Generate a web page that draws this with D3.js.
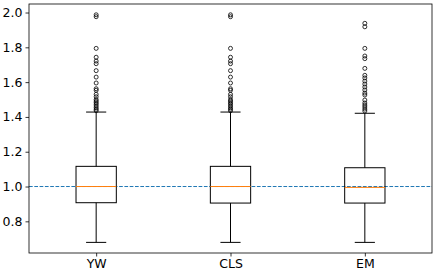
<!DOCTYPE html>
<html><head><meta charset="utf-8">
<script src="https://cdn.jsdelivr.net/npm/d3@7/dist/d3.min.js"></script>
<style>body{margin:0;background:#fff}svg{display:block}text{font-family:"DejaVu Sans",sans-serif}</style>
</head><body><svg id="c" width="436" height="272"></svg>
<script>
const categories = ["YW", "CLS", "EM"];
const q1 = [0.907, 0.905, 0.905];
const medians = [1.0, 1.0, 0.995];
const q3 = [1.116, 1.116, 1.108];
const whiskerLow = [0.679, 0.679, 0.679];
const whiskerHigh = [1.428, 1.428, 1.421];
const outliersYW = [1.987, 1.976, 1.794, 1.743, 1.721, 1.706, 1.666, 1.629, 1.595, 1.562, 1.553, 1.530, 1.516, 1.500, 1.491, 1.482, 1.473, 1.463, 1.453, 1.444, 1.436];
const outliersCLS = [1.987, 1.976, 1.794, 1.743, 1.721, 1.706, 1.666, 1.629, 1.595, 1.562, 1.553, 1.530, 1.516, 1.500, 1.491, 1.482, 1.473, 1.463, 1.453, 1.444, 1.436];
const outliersEM = [1.938, 1.918, 1.794, 1.750, 1.735, 1.679, 1.639, 1.624, 1.606, 1.589, 1.572, 1.555, 1.537, 1.526, 1.497, 1.480, 1.468, 1.457, 1.445, 1.434];
const yTicks = [0.8, 1.0, 1.2, 1.4, 1.6, 1.8, 2.0];
const refLine = 1.0;

const outliers = [outliersYW, outliersCLS, outliersEM];
const svg = d3.select("#c");
const L = 29, R = 432, T = 4, B = 253;
const x = d3.scaleLinear().domain([0.5, 3.5]).range([L, R]);
const y = d3.scaleLinear().domain([0.618, 2.049]).range([B, T]);
const bw = 0.3, cw = 0.15;

// reference line
svg.append("line").attr("x1", L).attr("x2", R).attr("y1", y(refLine)).attr("y2", y(refLine))
  .attr("stroke", "#1f77b4").attr("stroke-width", 1).attr("stroke-dasharray", "3.7,1.6");

categories.forEach((c, i) => {
  const p = i + 1;
  const g = svg.append("g").attr("stroke", "#000").attr("stroke-width", 1).attr("fill", "none");
  g.append("rect").attr("x", x(p - bw / 2)).attr("width", x(p + bw / 2) - x(p - bw / 2))
    .attr("y", y(q3[i])).attr("height", y(q1[i]) - y(q3[i]));
  g.append("line").attr("x1", x(p)).attr("x2", x(p)).attr("y1", y(q3[i])).attr("y2", y(whiskerHigh[i]));
  g.append("line").attr("x1", x(p)).attr("x2", x(p)).attr("y1", y(q1[i])).attr("y2", y(whiskerLow[i]));
  g.append("line").attr("x1", x(p - cw / 2)).attr("x2", x(p + cw / 2)).attr("y1", y(whiskerHigh[i])).attr("y2", y(whiskerHigh[i]));
  g.append("line").attr("x1", x(p - cw / 2)).attr("x2", x(p + cw / 2)).attr("y1", y(whiskerLow[i])).attr("y2", y(whiskerLow[i]));
  g.append("line").attr("x1", x(p - bw / 2)).attr("x2", x(p + bw / 2)).attr("y1", y(medians[i])).attr("y2", y(medians[i]))
    .attr("stroke", "#ff7f0e");
  g.selectAll("circle.o").data(outliers[i]).enter().append("circle")
    .attr("cx", x(p)).attr("cy", d => y(d)).attr("r", 2).attr("stroke-width", 0.8);
});

// axes
const yAxis = d3.axisLeft(y).tickValues(yTicks).tickFormat(d3.format(".1f")).tickSize(3.5).tickPadding(3);
const xAxis = d3.axisBottom(x).tickValues([1, 2, 3]).tickFormat((d) => categories[d - 1]).tickSize(3.5).tickPadding(3);
const ya = svg.append("g").attr("transform", `translate(${L},0)`).call(yAxis);
const xa = svg.append("g").attr("transform", `translate(0,${B})`).call(xAxis);
[ya, xa].forEach(a => {
  a.select(".domain").remove();
  a.selectAll("text").attr("font-size", 12.5).attr("fill", "#000").attr("font-family", "DejaVu Sans");
  a.selectAll("line").attr("stroke", "#000").attr("stroke-width", 0.8);
});
svg.append("rect").attr("x", L).attr("y", T).attr("width", R - L).attr("height", B - T)
  .attr("fill", "none").attr("stroke", "#000").attr("stroke-width", 0.8);
</script></body></html>
